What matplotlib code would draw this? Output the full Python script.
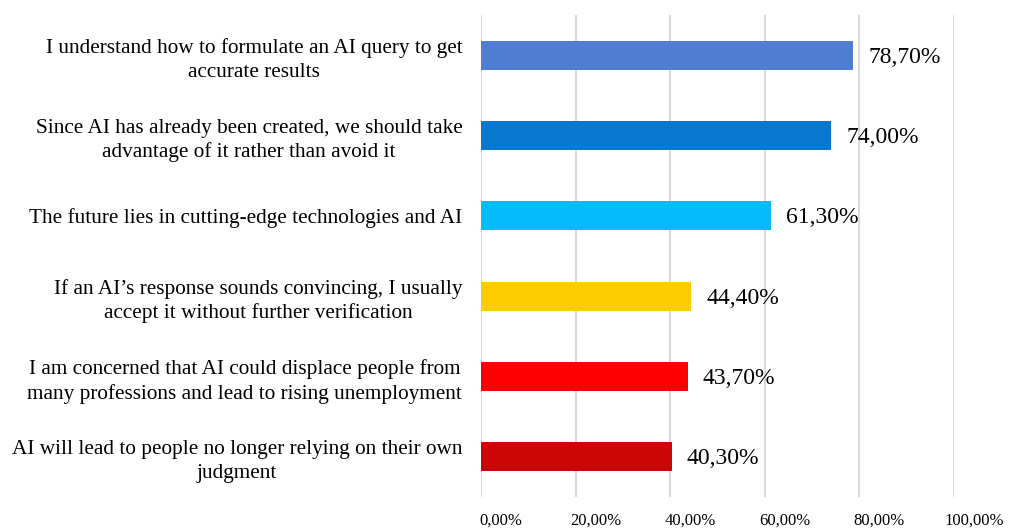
import matplotlib
matplotlib.use("Agg")
import matplotlib.pyplot as plt
import matplotlib.transforms as mtransforms

categories = [
    "I understand how to formulate an AI query to get\naccurate results",
    "Since AI has already been created, we should take\nadvantage of it rather than avoid it",
    "The future lies in cutting-edge technologies and AI",
    "If an AI\u2019s response sounds convincing, I usually\naccept it without further verification",
    "I am concerned that AI could displace people from\nmany professions and lead to rising unemployment",
    "AI will lead to people no longer relying on their own\njudgment",
]
values = [78.7, 74.0, 61.3, 44.4, 43.7, 40.3]
value_labels = ["78,70%", "74,00%", "61,30%", "44,40%", "43,70%", "40,30%"]
colors = ["#4F7DD2", "#0778CF", "#07BCFD", "#FFCC00", "#FF0000", "#CC0606"]
xticks = [0, 20, 40, 60, 80, 100]
xtick_labels = ["0,00%", "20,00%", "40,00%", "60,00%", "80,00%", "100,00%"]

plt.rcParams['font.family'] = ['Liberation Serif', 'DejaVu Serif']

fig = plt.figure(figsize=(10.23, 5.29), dpi=100)
W, H = 1023, 529
ax = fig.add_axes([481 / W, 1 - 497 / H, (954 - 481) / W, (497 - 15) / H])

n = len(categories)
ypos = list(range(n))
ax.barh(ypos, values, height=0.36, color=colors, zorder=3)
ax.set_ylim(n - 0.5, -0.5)
ax.set_xlim(0, 100)

ax.set_yticks(ypos)
ax.set_yticklabels(categories, fontsize=15.3, multialignment='center', linespacing=1.32)
ax.tick_params(axis='y', length=0, pad=13.5)

ax.set_xticks(xticks)
ax.set_xticklabels(xtick_labels, fontsize=12)
ax.tick_params(axis='x', length=0, pad=11)
offset = mtransforms.ScaledTranslation(20 / 100, 0, fig.dpi_scale_trans)
for lbl in ax.get_xticklabels():
    lbl.set_transform(lbl.get_transform() + offset)

ax.grid(axis='x', color='#D9D9D9', linewidth=1.5, zorder=0)
for s in ax.spines.values():
    s.set_visible(False)

for y, v, t in zip(ypos, values, value_labels):
    ax.annotate(t, (v, y), xytext=(15, -2), textcoords='offset pixels',
                va='center', ha='left', fontsize=17)

fig.savefig("out.png", dpi=100)
